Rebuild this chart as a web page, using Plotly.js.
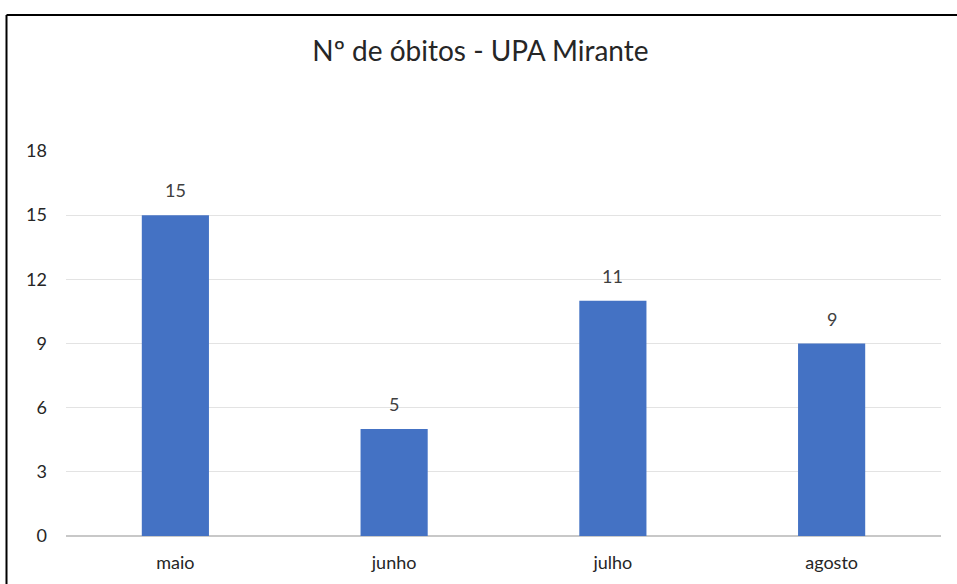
<!DOCTYPE html>
<html>
<head>
<meta charset="utf-8">
<script src="https://cdn.plot.ly/plotly-3.0.1.min.js"></script>
<style>html,body{margin:0;padding:0;background:#fff;}#chart{width:957px;height:584px;}</style>
</head>
<body>
<div id="chart"></div>
<script>
const categories = ["maio", "junho", "julho", "agosto"];
const obitos = [15, 5, 11, 9];
const yTicks = [0, 3, 6, 9, 12, 15, 18];
const chartTitle = "Nº de óbitos - UPA Mirante";

const FONT = "Lato, 'Open Sans', sans-serif";

const trace = {
  type: "bar",
  x: categories,
  y: obitos,
  marker: { color: "#4472C4" },
  cliponaxis: false,
  hoverinfo: "x+y"
};

const labelAnnotations = categories.map((c, i) => ({
  x: c,
  y: obitos[i],
  xref: "x",
  yref: "y",
  text: String(obitos[i]),
  showarrow: false,
  yanchor: "middle",
  yshift: 25,
  font: { family: FONT, size: 18, color: "#404040" }
}));

const layout = {
  width: 957,
  height: 584,
  margin: { l: 66, r: 16, t: 151, b: 48 },
  paper_bgcolor: "#ffffff",
  plot_bgcolor: "#ffffff",
  bargap: 0.693,
  showlegend: false,
  title: {
    text: chartTitle,
    font: { family: FONT, size: 28, color: "#262626" },
    x: 0.502,
    xanchor: "center",
    y: 0.913,
    yanchor: "middle"
  },
  xaxis: {
    type: "category",
    tickfont: { family: FONT, size: 18, color: "#262626" },
    showgrid: false,
    showline: false,
    ticks: "",
    ticklen: 0,
    zeroline: false,
    ticklabelstandoff: 14
  },
  yaxis: {
    range: [0, 18],
    tickmode: "array",
    tickvals: yTicks,
    ticktext: yTicks.map(String),
    tickfont: { family: FONT, size: 18, color: "#262626" },
    showgrid: true,
    gridcolor: "#e3e3e3",
    gridwidth: 1,
    zeroline: true,
    zerolinecolor: "#c8c8c8",
    zerolinewidth: 2,
    showline: false,
    ticks: "",
    ticklabelstandoff: 18
  },
  annotations: labelAnnotations,
  shapes: [
    { type: "line", xref: "paper", yref: "paper", x0: -0.068, x1: 1.02, y0: 1.353, y1: 1.353, line: { color: "#000000", width: 2 } },
    { type: "line", xref: "paper", yref: "paper", x0: -0.068, x1: -0.068, y0: 1.353, y1: -0.13, line: { color: "#000000", width: 2 } }
  ]
};

Plotly.newPlot("chart", [trace], layout, { displayModeBar: false, staticPlot: true });
</script>
</body>
</html>
